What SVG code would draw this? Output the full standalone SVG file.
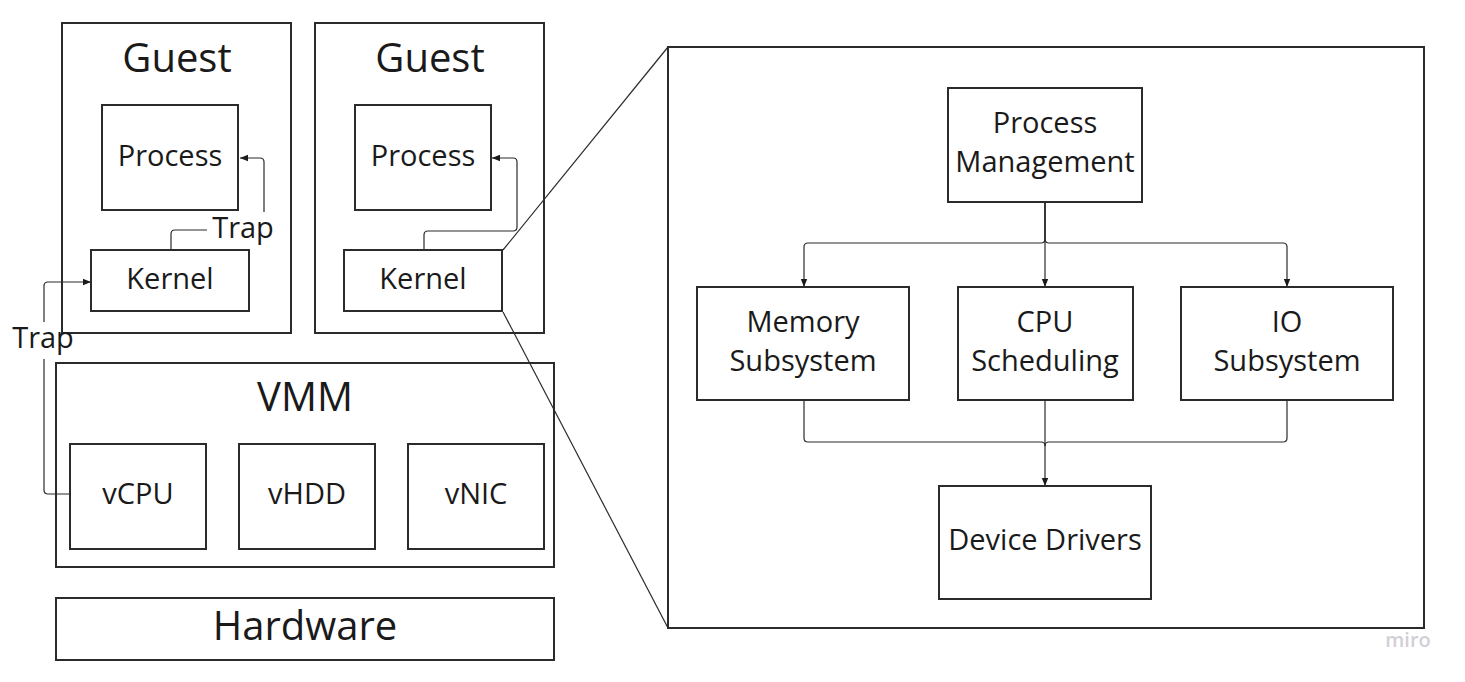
<svg xmlns="http://www.w3.org/2000/svg" width="1465" height="682" viewBox="0 0 1465 682">
<style>
.box{fill:#fff;stroke:#2b2b2b;stroke-width:2}
.ln{fill:none;stroke:#2b2b2b;stroke-width:1.2}
.t{font-family:"Open Sans","Liberation Sans",sans-serif;fill:#1a1a1a;text-anchor:middle}
.m{font-size:29px}
.l{font-size:40px}
</style>
<defs>
<marker id="ah" viewBox="0 0 10 10" refX="10" refY="5" markerWidth="10" markerHeight="8" markerUnits="userSpaceOnUse" orient="auto">
<path d="M0,1 L10,5 L0,9 z" fill="#1a1a1a"/>
</marker>
</defs>
<rect width="1465" height="682" fill="#fff"/>

<g id="guest1">
<rect class="box" x="62" y="23" width="229" height="310"/>
<text class="t l" x="177" y="72">Guest</text>
</g>
<g id="guest2">
<rect class="box" x="315" y="23" width="229" height="310"/>
<text class="t l" x="430" y="72">Guest</text>
</g>
<g id="kernel-detail">
<rect class="box" x="668" y="47" width="756" height="581"/>
</g>
<g id="vmm">
<rect class="box" x="56" y="363" width="498" height="204"/>
<text class="t l" x="305" y="411">VMM</text>
</g>

<g id="connectors">
<path class="ln" d="M503,250 L668,47"/>
<path class="ln" d="M503,312 L668,628"/>
<path class="ln" d="M171,250 V234 Q171,230 175,230 H207 M264,212 V162 Q264,158 260,158 H240" marker-end="url(#ah)"/>
<path class="ln" d="M70,494 H48 Q44,494 44,490 V359 M44,322 V286 Q44,282 48,282 H91" marker-end="url(#ah)"/>
<path class="ln" d="M424,250 V235 Q424,231 428,231 H513 Q517,231 517,227 V162 Q517,158 513,158 H492" marker-end="url(#ah)"/>
<path class="ln" d="M1045,202 V239 Q1045,243 1041,243 H808 Q804,243 804,247 V287" marker-end="url(#ah)"/>
<path class="ln" d="M1045,202 V239 Q1045,243 1049,243 H1283 Q1287,243 1287,247 V287" marker-end="url(#ah)"/>
<path class="ln" d="M1045,202 V287" marker-end="url(#ah)"/>
<path class="ln" d="M804,400 V438 Q804,442 808,442 H1041 Q1045,442 1045,446"/>
<path class="ln" d="M1287,400 V438 Q1287,442 1283,442 H1049 Q1045,442 1045,446"/>
<path class="ln" d="M1045,400 V486" marker-end="url(#ah)"/>
<text class="t m" x="243" y="238">Trap</text>
<text class="t m" x="43" y="348">Trap</text>
</g>

<g id="process1">
<rect class="box" x="102" y="105" width="136" height="105"/>
<text class="t m" x="170" y="166">Process</text>
</g>
<g id="kernel1">
<rect class="box" x="91" y="250" width="158" height="61"/>
<text class="t m" x="170" y="289">Kernel</text>
</g>
<g id="process2">
<rect class="box" x="355" y="105" width="136" height="105"/>
<text class="t m" x="423" y="166">Process</text>
</g>
<g id="kernel2">
<rect class="box" x="344" y="250" width="158" height="61"/>
<text class="t m" x="423" y="289">Kernel</text>
</g>
<g id="vcpu">
<rect class="box" x="70" y="444" width="136" height="105"/>
<text class="t m" x="138" y="504">vCPU</text>
</g>
<g id="vhdd">
<rect class="box" x="239" y="444" width="136" height="105"/>
<text class="t m" x="307" y="504">vHDD</text>
</g>
<g id="vnic">
<rect class="box" x="408" y="444" width="136" height="105"/>
<text class="t m" x="476" y="504">vNIC</text>
</g>
<g id="hardware">
<rect class="box" x="56" y="598" width="498" height="62"/>
<text class="t l" x="305" y="640">Hardware</text>
</g>

<g id="process-management">
<rect class="box" x="948" y="88" width="194" height="114"/>
<text class="t m" x="1045" y="133">Process</text>
<text class="t m" x="1045" y="172">Management</text>
</g>
<g id="memory-subsystem">
<rect class="box" x="697" y="287" width="212" height="113"/>
<text class="t m" x="803" y="332">Memory</text>
<text class="t m" x="803" y="371">Subsystem</text>
</g>
<g id="cpu-scheduling">
<rect class="box" x="958" y="287" width="175" height="113"/>
<text class="t m" x="1045" y="332">CPU</text>
<text class="t m" x="1045" y="371">Scheduling</text>
</g>
<g id="io-subsystem">
<rect class="box" x="1181" y="287" width="212" height="113"/>
<text class="t m" x="1287" y="332">IO</text>
<text class="t m" x="1287" y="371">Subsystem</text>
</g>
<g id="device-drivers">
<rect class="box" x="939" y="486" width="212" height="113"/>
<text class="t m" x="1045" y="550">Device Drivers</text>
</g>

<text x="1408" y="647" font-family="'Open Sans','Liberation Sans',sans-serif" font-size="20" font-weight="600" fill="#d0d0d6" text-anchor="middle">miro</text>
</svg>
